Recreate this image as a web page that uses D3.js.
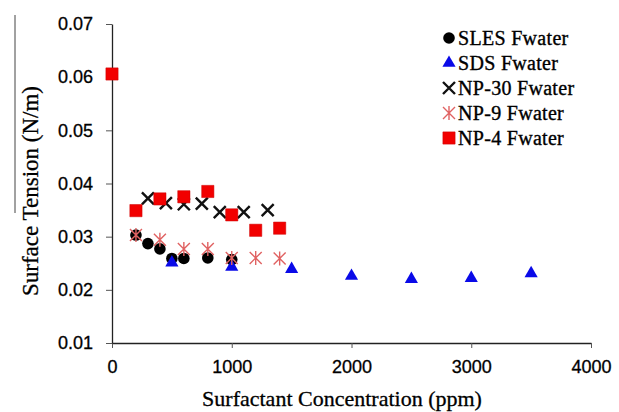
<!DOCTYPE html>
<html lang="en">
<head>
<meta charset="UTF-8">
<title>Surface Tension vs Surfactant Concentration</title>
<script src="https://d3js.org/d3.v7.min.js"></script>
<style>
  body { margin: 0; background: #fff; }
  .tick text { font-family: "Liberation Sans", Arial, sans-serif; font-size: 18px; fill: #000; stroke: #000; stroke-width: 0.3px; }
  .axis-title { font-family: "Liberation Serif", "Times New Roman", serif; font-size: 22px; fill: #000; stroke: #000; stroke-width: 0.3px; }
  .legend text { font-family: "Liberation Serif", "Times New Roman", serif; font-size: 20px; fill: #000; stroke: #000; stroke-width: 0.35px; letter-spacing: 0.3px; }
</style>
</head>
<body>
<svg id="chart" width="619" height="412"></svg>
<script>
// data (ppm, N/m)
const slesConc = [200, 300, 400, 500, 600, 800, 1000];
const slesTension = [0.0303, 0.0287, 0.0277, 0.0259, 0.0259, 0.0260, 0.0257];

const sdsConc = [500, 1000, 1500, 2000, 2500, 3000, 3500];
const sdsTension = [0.0251, 0.0243, 0.0239, 0.0226, 0.0220, 0.0222, 0.0231];

const np30Conc = [300, 450, 600, 750, 900, 1100, 1300];
const np30Tension = [0.0372, 0.0363, 0.0361, 0.0362, 0.0346, 0.0346, 0.0350];

const np9Conc = [200, 400, 600, 800, 1000, 1200, 1400];
const np9Tension = [0.0303, 0.0294, 0.0277, 0.0277, 0.0260, 0.0260, 0.0259];

const np4Conc = [0, 200, 400, 600, 800, 1000, 1200, 1400];
const np4Tension = [0.0606, 0.0349, 0.0371, 0.0375, 0.0385, 0.0341, 0.0312, 0.0316];

const seriesNames = ["SLES Fwater", "SDS Fwater", "NP-30 Fwater", "NP-9 Fwater", "NP-4 Fwater"];
const xTicks = [0, 1000, 2000, 3000, 4000];
const yTicks = [0.01, 0.02, 0.03, 0.04, 0.05, 0.06, 0.07];

const series = [
  { name: seriesNames[0], conc: slesConc, vals: slesTension, shape: "circle" },
  { name: seriesNames[1], conc: sdsConc, vals: sdsTension, shape: "triangle" },
  { name: seriesNames[2], conc: np30Conc, vals: np30Tension, shape: "cross" },
  { name: seriesNames[3], conc: np9Conc, vals: np9Tension, shape: "star" },
  { name: seriesNames[4], conc: np4Conc, vals: np4Tension, shape: "square" }
];

const svg = d3.select("#chart");

const x = d3.scaleLinear().domain([0, 4000]).range([112, 591]);
const y = d3.scaleLinear().domain([0.01, 0.07]).range([343, 24]);

// thin frame line left over from the original figure
svg.append("line")
  .attr("x1", 15).attr("x2", 15).attr("y1", 15).attr("y2", 213)
  .attr("stroke", "#444").attr("stroke-width", 1);

const xAxis = svg.append("g")
  .attr("transform", `translate(0,${y(0.01)})`)
  .call(d3.axisBottom(x).tickValues(xTicks).tickFormat(d3.format("d")).tickSize(5).tickPadding(14).tickSizeOuter(0));

const yAxis = svg.append("g")
  .attr("transform", `translate(${x(0)},0)`)
  .call(d3.axisLeft(y).tickValues(yTicks).tickFormat(d3.format(".2f")).tickSize(6).tickPadding(13).tickSizeOuter(0));

[xAxis, yAxis].forEach(g => {
  g.select(".domain").attr("stroke", "#222").attr("stroke-width", 1.3);
  g.selectAll(".tick line").attr("stroke", "#555");
});
xAxis.selectAll(".tick text").attr("dy", "0.62em");

svg.append("text")
  .attr("class", "axis-title")
  .attr("x", 342).attr("y", 406)
  .attr("text-anchor", "middle")
  .text("Surfactant Concentration (ppm)");

svg.append("text")
  .attr("class", "axis-title")
  .attr("transform", `translate(38,${191}) rotate(-90)`)
  .attr("text-anchor", "middle")
  .style("font-size", "23px")
  .text("Surface Tension (N/m)");

function drawMarker(g, shape, cx, cy) {
  if (shape === "circle") {
    g.append("circle").attr("cx", cx).attr("cy", cy).attr("r", 5.8).attr("fill", "#000");
  } else if (shape === "triangle") {
    g.append("path")
      .attr("transform", `translate(${cx},${cy})`)
      .attr("d", d3.symbol(d3.symbolTriangle, 75)())
      .attr("fill", "#0a0ae8");
  } else if (shape === "square") {
    g.append("path")
      .attr("transform", `translate(${cx},${cy})`)
      .attr("d", d3.symbol(d3.symbolSquare, 150)())
      .attr("fill", "#f20000")
      .attr("stroke", "#c00").attr("stroke-width", 0.5);
  } else if (shape === "cross") {
    const s = 6;
    g.append("path")
      .attr("d", `M${cx - s},${cy - s}L${cx + s},${cy + s}M${cx - s},${cy + s}L${cx + s},${cy - s}`)
      .attr("stroke", "#111").attr("stroke-width", 2.4).attr("fill", "none");
  } else if (shape === "star") {
    const s = 6;
    g.append("path")
      .attr("d", `M${cx - s},${cy - s}L${cx + s},${cy + s}M${cx - s},${cy + s}L${cx + s},${cy - s}M${cx},${cy - s - 1}L${cx},${cy + s + 1}`)
      .attr("stroke", "#e06262").attr("stroke-width", 1.4).attr("fill", "none");
  }
}

const points = svg.append("g");
series.forEach(s => {
  const g = points.append("g");
  s.conc.forEach((c, i) => drawMarker(g, s.shape, x(c), y(s.vals[i])));
});

// legend
const legend = svg.append("g").attr("class", "legend");
series.forEach((s, i) => {
  const ly = 38 + i * 25;
  const g = legend.append("g");
  drawMarker(g, s.shape, 449, ly);
  g.append("text").attr("x", 458).attr("y", ly).attr("dy", "0.35em").text(s.name);
});
</script>
</body>
</html>
